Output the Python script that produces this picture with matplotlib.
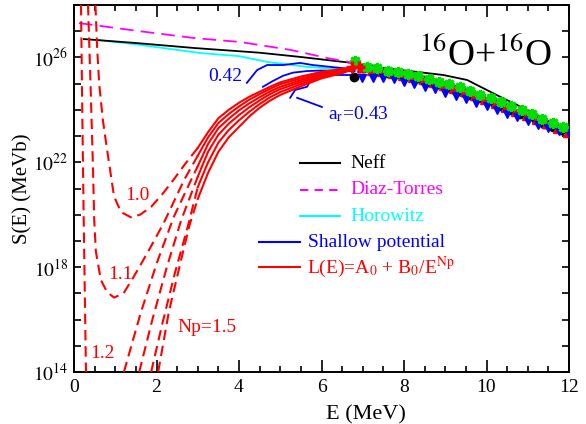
import numpy as np
import matplotlib
matplotlib.use('Agg')
import matplotlib.pyplot as plt
from matplotlib.ticker import FixedLocator, FuncFormatter, MultipleLocator

plt.rcParams['font.family'] = 'Liberation Serif'
plt.rcParams['mathtext.fontset'] = 'stix'

# ---- data (E in MeV, log10 S in MeV b) ----
neff_E = [0.24, 1.5, 2.91, 4.5, 5.48, 6.69, 7.5, 8.3, 8.95, 9.53, 10.33, 11.13, 12.0]
neff_lS = [26.70, 26.55, 26.36, 26.18, 26.02, 25.80, 25.60, 25.45, 25.33, 25.14, 24.50, 23.89, 23.15]

diaz_E = [0.12, 1.5, 2.91, 4.02, 5.24, 6.13, 6.75]
diaz_lS = [27.31, 27.02, 26.74, 26.59, 26.29, 25.98, 25.80]

horo_E = [0.56, 1.5, 3.05, 4.0, 4.68, 5.65, 6.5, 7.42, 8.46, 9.5, 10.5, 11.3, 12.0]
horo_lS = [26.67, 26.50, 26.17, 26.05, 25.83, 25.64, 25.55, 25.41, 24.95, 24.50, 24.00, 23.60, 23.10]

# shallow potential curves
shA_E = [4.19, 4.44, 4.68, 5.07, 5.48, 5.79, 6.76]
shA_lS = [25.03, 25.52, 25.71, 25.71, 25.79, 25.71, 25.55]
shB_E = [4.58, 4.82, 5.07, 5.31, 5.65, 6.0, 6.8]
shB_lS = [24.88, 25.10, 25.30, 25.42, 25.48, 25.50, 25.48]
shC_E = [5.24, 5.36, 5.65, 5.77, 5.96, 6.3, 6.8]
shC_lS = [24.46, 24.76, 24.88, 25.22, 25.33, 25.33, 25.33]

# L(E) fits, dashed (low E) and solid (high E) parts
Np = ['1.0', '1.1', '1.2', '1.3', '1.4', '1.5']
dash_E = {
    '1.0': [0.52, 0.56, 0.61, 0.70, 0.80, 0.97, 1.14, 1.38, 1.6, 1.87, 2.15, 2.42, 2.7, 3.0],
    '1.1': [0.34, 0.40, 0.46, 0.49, 0.53, 0.65, 0.80, 0.97, 1.2, 1.45, 1.8, 2.18, 2.67, 3.0],
    '1.2': [1.21, 1.62, 2.01, 2.42, 2.84, 3.0],
    '1.3': [1.58, 1.9, 2.25, 2.6, 3.0],
    '1.4': [1.87, 2.15, 2.45, 2.75, 3.0],
    '1.5': [2.04, 2.3, 2.6, 2.8, 3.0],
}
dash_lS = {
    '1.0': [28.0, 26.4, 25.0, 23.6, 22.5, 20.7, 20.1, 19.9, 20.0, 20.3, 20.8, 21.35, 21.95, 22.55],
    '1.1': [28.0, 25.0, 21.8, 19.8, 18.6, 17.52, 17.05, 16.84, 17.0, 17.64, 18.6, 19.7, 21.33, 22.25],
    '1.2': [14.0, 16.27, 18.17, 19.92, 21.33, 21.85],
    '1.3': [14.0, 16.0, 18.0, 19.8, 21.45],
    '1.4': [14.0, 15.9, 17.8, 19.5, 21.05],
    '1.5': [14.0, 16.3, 18.3, 19.6, 20.6],
}
left12_E = [0.17, 0.20, 0.23, 0.26, 0.29]
left12_lS = [28.0, 24.0, 20.4, 17.2, 14.0]

solid_E = [3.0, 3.25, 3.5, 3.75, 4.0, 4.25, 4.5, 4.75, 5.0, 5.5, 6.0, 6.5, 6.9]
solid_lS = {
    '1.0': [22.55, 23.15, 23.68, 24.00, 24.27, 24.50, 24.69, 24.88, 25.05, 25.27, 25.45, 25.56, 25.65],
    '1.1': [22.25, 22.95, 23.50, 23.84, 24.13, 24.39, 24.60, 24.80, 24.98, 25.20, 25.40, 25.53, 25.64],
    '1.2': [21.85, 22.70, 23.30, 23.66, 23.98, 24.25, 24.48, 24.70, 24.88, 25.13, 25.35, 25.50, 25.64],
    '1.3': [21.45, 22.40, 23.05, 23.47, 23.80, 24.10, 24.36, 24.60, 24.79, 25.06, 25.30, 25.47, 25.63],
    '1.4': [21.05, 22.00, 22.75, 23.23, 23.60, 23.93, 24.22, 24.48, 24.68, 24.98, 25.25, 25.44, 25.62],
    '1.5': [20.60, 21.60, 22.40, 22.95, 23.35, 23.75, 24.08, 24.35, 24.57, 24.90, 25.20, 25.40, 25.62],
}

# experimental data
blk_E = [6.78, 7.0, 7.2, 7.4, 7.6, 7.8, 8.0, 8.2, 8.4, 8.6, 8.8, 9.0, 9.2, 9.4,
         9.6, 9.8, 10.0, 10.2, 10.4, 10.6, 10.8, 11.0, 11.2, 11.4, 11.6, 11.8, 12.0]
blk_lS = [25.25, 25.60, 25.55, 25.48, 25.42, 25.36, 25.30, 25.24, 25.16, 25.07, 24.98,
          24.90, 24.80, 24.70, 24.58, 24.46, 24.35, 24.23, 24.11, 23.98, 23.86, 23.74,
          23.60, 23.47, 23.35, 23.22, 23.10]
red_E = [6.95, 7.2, 7.45, 7.7, 7.95, 8.2, 8.45, 8.7, 8.95, 9.2, 9.45, 9.7, 9.95,
         10.2, 10.45, 10.7, 10.95, 11.2, 11.45, 11.7, 11.95]
red_lS = [25.60, 25.50, 25.45, 25.38, 25.30, 25.22, 25.12, 25.02, 24.92, 24.80, 24.67,
          24.52, 24.38, 24.22, 24.08, 23.93, 23.78, 23.62, 23.45, 23.28, 23.10]
grn_E = [6.82, 7.1, 7.35, 7.6, 7.85, 8.1, 8.35, 8.6, 8.85, 9.1, 9.35, 9.6, 9.85,
         10.1, 10.35, 10.6, 10.85, 11.1, 11.35, 11.6, 11.85]
grn_lS = [25.88, 25.65, 25.58, 25.50, 25.44, 25.36, 25.28, 25.18, 25.08, 24.97, 24.86,
          24.72, 24.58, 24.44, 24.30, 24.15, 24.00, 23.84, 23.67, 23.50, 23.33]
blu_E = [6.98, 7.25, 7.5, 7.75, 8.0, 8.25, 8.5, 8.75, 9.0, 9.25, 9.5, 9.75, 10.0,
         10.25, 10.5, 10.75, 11.0, 11.25, 11.5, 11.75, 12.0]
blu_lS = [25.22, 25.22, 25.20, 25.18, 25.08, 24.98, 24.88, 24.78, 24.66, 24.54, 24.42,
          24.28, 24.14, 24.00, 23.86, 23.72, 23.58, 23.44, 23.30, 23.18, 23.12]
plus_E = [6.75, 6.9]
plus_lS = [25.65, 25.65]


def S(v):
    return 10.0 ** np.array(v)


fig = plt.figure(figsize=(5.86, 4.24), dpi=100)
ax = fig.add_axes([74/586, 52/424, 495/586, 367/424])

ax.plot(neff_E, S(neff_lS), color='black', lw=1.3, zorder=3)
ax.plot(diaz_E, S(diaz_lS), color='magenta', lw=1.3, ls=(0, (7.5, 4)), zorder=3)
ax.plot(horo_E, S(horo_lS), color='cyan', lw=1.3, zorder=2)

for e, s in [(shA_E, shA_lS), (shB_E, shB_lS), (shC_E, shC_lS)]:
    ax.plot(e, S(s), color='blue', lw=1.3, zorder=3)

for n in Np:
    ax.plot(dash_E[n], S(dash_lS[n]), color='red', lw=1.5, ls=(0, (5, 2.8)), zorder=3)
    ax.plot(solid_E, S(solid_lS[n]), color='red', lw=1.5, zorder=3)
ax.plot(left12_E, S(left12_lS), color='red', lw=1.5, ls=(0, (5, 2.8)), zorder=3)

ax.plot(blk_E, S(blk_lS), 'o', color='black', ms=6, zorder=4)
ax.plot(red_E, S(red_lS), '^', color='red', ms=6, zorder=4)
ax.plot(blu_E, S(blu_lS), 'v', color='blue', ms=6, zorder=5)
ax.plot(grn_E, S(grn_lS), marker=(8, 2, 0), ls='none', color='#00e000', ms=8, mew=2, zorder=5)
ax.plot(plus_E, S(plus_lS), '+', color='red', ms=9, mew=2.5, zorder=5)

# curve labels
ax.text(1.53, 10**20.72, '1.0', color='red', fontsize=14, ha='center', va='center')
ax.text(1.12, 10**17.71, '1.1', color='red', fontsize=14, ha='center', va='center')
ax.text(0.70, 10**14.7, '1.2', color='red', fontsize=14, ha='center', va='center')
ax.text(2.5, 10**15.7, 'Np=1.5', color='red', fontsize=14, ha='left', va='center')
ax.text(3.66, 10**25.26, '0.42', color='blue', fontsize=14, ha='center', va='center')
ax.text(6.16, 10**23.85, r'a$_{\rm r}$=0.43', color='blue', fontsize=14, ha='left', va='center')
ax.plot([5.41, 6.01], [10**24.46, 10**24.11], color='blue', lw=1.3)

ax.text(0.966, 0.834, r'$^{16}$O+$^{16}$O', transform=ax.transAxes, fontsize=27,
        ha='right', va='baseline')

# legend drawn by hand
leg = [('Neff', 'black', '-', 0.457, 0.537, 0.558, 0.569),
       ('Diaz-Torres', 'magenta', (0, (4, 3)), 0.457, 0.537, 0.558, 0.496),
       ('Horowitz', 'cyan', '-', 0.457, 0.537, 0.558, 0.425),
       ('Shallow potential', 'blue', '-', 0.374, 0.457, 0.473, 0.354),
       (r'L(E)=A$_0$ + B$_0$/E$^{\rm Np}$', 'red', '-', 0.374, 0.457, 0.470, 0.286)]
for txt, c, ls, x0, x1, xt, y in leg:
    ax.plot([x0, x1], [y, y], color=c, ls=ls, lw=1.5, transform=ax.transAxes)
    ax.text(xt, y, txt, color=c, fontsize=14, ha='left', va='center', transform=ax.transAxes)

ax.set_yscale('log')
ax.set_xlim(0, 12)
ax.set_ylim(1e14, 1e28)
ax.xaxis.set_major_locator(MultipleLocator(2))
ax.xaxis.set_minor_locator(MultipleLocator(0.5))
ax.yaxis.set_major_locator(FixedLocator([10.0**k for k in range(14, 29)]))
ax.yaxis.set_minor_locator(FixedLocator([]))
ax.yaxis.set_major_formatter(FuncFormatter(
    lambda v, p: r'$10^{%d}$' % round(np.log10(v)) if round(np.log10(v)) in (14, 18, 22, 26) else ''))
ax.tick_params(which='both', direction='in', top=True, right=True, labelsize=14, width=1.2)
ax.tick_params(axis='x', which='major', length=8.5, pad=5)
ax.tick_params(axis='x', which='minor', length=4.5)
ax.tick_params(axis='y', which='major', length=5, pad=4)
for sp in ax.spines.values():
    sp.set_linewidth(1.4)

ax.set_xlabel('E (MeV)', fontsize=16)
ax.xaxis.set_label_coords(0.59, -0.09)
ax.set_ylabel('S(E) (MeVb)', fontsize=15)
ax.yaxis.set_label_coords(-0.084, 0.5)

fig.savefig('out.png', dpi=100)
